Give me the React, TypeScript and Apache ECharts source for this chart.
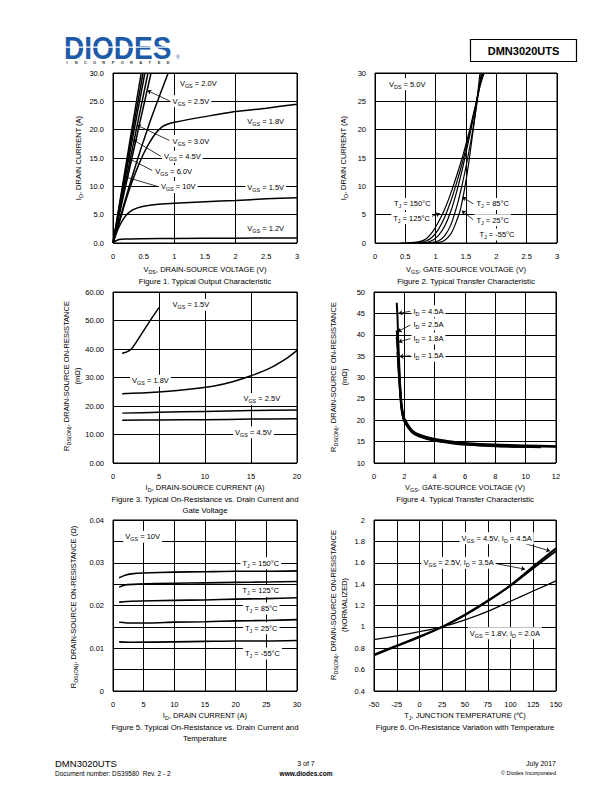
import React, { useEffect, useRef } from 'react';
import * as echarts from 'echarts';

const FONT = '"Liberation Sans", Arial, Helvetica, sans-serif';
const FS = 7.5;

// ---------------- Figure 1: output characteristic ----------------
const fig1XTicks = ['0', '0.5', '1', '1.5', '2', '2.5', '3'];
const fig1YTicks = ['0.0', '5.0', '10.0', '15.0', '20.0', '25.0', '30.0'];
const fig1Vgs10 = [[0, 0], [0.3, 19.6], [0.46, 30]];
const fig1Vgs6 = [[0, 0], [0.3, 18.5], [0.49, 30]];
const fig1Vgs45 = [[0, 0], [0.3, 17.4], [0.52, 30]];
const fig1Vgs3 = [[0, 0], [0.3, 15.8], [0.57, 30]];
const fig1Vgs25 = [[0, 0], [0.3, 14.6], [0.62, 30]];
const fig1Vgs2 = [[0, 0], [0.3, 11.3], [0.6, 21.3], [0.9, 30]];
const fig1Vgs18 = [[0, 0], [0.1, 3.5], [0.2, 7.2], [0.3, 10.5], [0.4, 13.3], [0.5, 15.8], [0.6, 17.8], [0.7, 19.4], [0.8, 20.5], [0.9, 21], [1, 21.3], [1.5, 22.3], [2, 23.2], [2.5, 23.8], [3, 24.5]];
const fig1Vgs15 = [[0, 0], [0.05, 1.6], [0.1, 2.9], [0.2, 4.7], [0.3, 5.7], [0.4, 6.2], [0.5, 6.5], [0.7, 6.8], [1, 7], [1.5, 7.3], [2, 7.5], [2.5, 7.8], [3, 8]];
const fig1Vgs12 = [[0, 0], [0.05, 0.4], [0.1, 0.6], [0.2, 0.7], [0.5, 0.75], [1, 0.8], [2, 0.85], [3, 0.9]];
const fig1Notes: [number, number, string][] = [
  [1.05, 28.1, 'V_{GS} = 2.0V'], [0.93, 25, 'V_{GS} = 2.5V'], [2.15, 21.4, 'V_{GS} = 1.8V'],
  [0.93, 18, 'V_{GS} = 3.0V'], [0.79, 15.2, 'V_{GS} = 4.5V'], [0.65, 12.7, 'V_{GS} = 6.0V'],
  [0.74, 9.9, 'V_{GS} = 10V'], [2.15, 9.8, 'V_{GS} = 1.5V'], [2.15, 2.5, 'V_{GS} = 1.2V'],
];
const fig1Arrows = [[0.92, 25.1, 0.56, 26.9], [0.92, 18.1, 0.39, 20.8], [0.78, 15.3, 0.33, 18.2], [0.64, 12.8, 0.26, 14.9], [0.72, 10, 0.19, 11.7]];

// ---------------- Figure 2: transfer characteristic ----------------
const fig2XTicks = ['0', '0.5', '1', '1.5', '2', '2.5', '3'];
const fig2YTicks = ['0', '5', '10', '15', '20', '25', '30'];
const fig2T150 = [[0.42, 0], [0.6, 0.05], [0.75, 0.3], [0.85, 0.8], [0.95, 2], [1.05, 3.8], [1.15, 6], [1.25, 8.8], [1.35, 12], [1.45, 15.5], [1.55, 19.5], [1.65, 24], [1.74, 28], [1.8, 30]];
const fig2T125 = [[0.5, 0], [0.7, 0.05], [0.85, 0.4], [0.95, 1.1], [1.05, 2.5], [1.15, 4.6], [1.25, 7.4], [1.35, 10.8], [1.45, 14.6], [1.55, 19], [1.65, 23.8], [1.74, 28.5], [1.78, 30]];
const fig2T85 = [[0.6, 0], [0.8, 0.05], [0.95, 0.5], [1.05, 1.4], [1.15, 3], [1.25, 5.6], [1.35, 9.2], [1.45, 13.5], [1.55, 18.4], [1.65, 23.6], [1.72, 27.8], [1.77, 30]];
const fig2T25 = [[0.75, 0], [0.9, 0.05], [1.05, 0.4], [1.15, 1.3], [1.25, 3.2], [1.35, 6.5], [1.42, 9.5], [1.5, 13.5], [1.58, 18], [1.65, 22.5], [1.72, 27.5], [1.75, 30]];
const fig2Tm55 = [[0.95, 0], [1.05, 0.1], [1.15, 0.5], [1.25, 1.6], [1.32, 3.2], [1.4, 5.6], [1.45, 8], [1.5, 11], [1.55, 14.5], [1.6, 18.5], [1.65, 22.5], [1.7, 27], [1.73, 30]];
const fig2Notes: [number, number, string][] = [
  [0.19, 28, 'V_{DS} = 5.0V'], [0.27, 6.9, 'T_{J} = 150°C'], [0.26, 4.4, 'T_{J} = 125°C'],
  [1.63, 6.9, 'T_{J} = 85°C'], [1.63, 4.0, 'T_{J} = 25°C'], [1.68, 1.5, 'T_{J} = -55°C'],
];
const fig2Arrows = [[0.88, 4.5, 1.07, 5.2], [1.62, 6.9, 1.44, 8.1], [1.62, 4.1, 1.43, 5.7]];

// ---------------- Figure 3: on-resistance vs drain current & gate voltage ----------------
const fig3XTicks = ['0', '5', '10', '15', '20'];
const fig3YTicks = ['0.00', '10.00', '20.00', '30.00', '40.00', '50.00', '60.00'];
const fig3Vgs15 = [[1, 38.5], [1.5, 39], [2, 40], [3, 44.8], [4, 49.8], [5, 54.5]];
const fig3Vgs18 = [[1, 24.3], [3, 24.6], [5, 24.9], [7, 25.4], [9, 26.1], [11, 27], [13, 28.5], [15, 30.6], [17, 33.2], [19, 37], [20, 39.5]];
const fig3Vgs25 = [[1, 17.5], [5, 17.8], [10, 18.1], [15, 18.4], [20, 18.6]];
const fig3Vgs45 = [[1, 15], [5, 15.1], [10, 15.2], [15, 15.4], [20, 15.5]];
const fig3Notes: [number, number, string][] = [
  [6.2, 55.5, 'V_{GS} = 1.5V'], [1.8, 28.9, 'V_{GS} = 1.8V'], [13.9, 22.5, 'V_{GS} = 2.5V'], [13, 10.8, 'V_{GS} = 4.5V'],
];

// ---------------- Figure 4: on-resistance vs gate voltage ----------------
const fig4XTicks = ['0', '2', '4', '6', '8', '10', '12'];
const fig4YTicks = ['10', '15', '20', '25', '30', '35', '40', '45', '50'];
const fig4Id45 = [[1.5, 47.5], [1.55, 44], [1.6, 38.5], [1.7, 30], [1.8, 24.5], [1.9, 21.8], [2, 20.4], [2.5, 17.7], [3, 16.6], [4, 15.6], [5, 15.1], [6, 14.7], [8, 14.3], [10, 14.1], [12, 13.9]];
const fig4Id25 = [[1.5, 41], [1.55, 38.5], [1.6, 35], [1.7, 28.5], [1.8, 23.8], [1.9, 21.4], [2, 20.1], [2.5, 17.5], [3, 16.4], [4, 15.4], [5, 14.9], [6, 14.5], [8, 14.1], [10, 13.9], [12, 13.8]];
const fig4Id18 = [[1.5, 39.5], [1.55, 37], [1.6, 34], [1.7, 28], [1.8, 23.4], [1.9, 21.1], [2, 19.9], [2.5, 17.3], [3, 16.3], [4, 15.3], [5, 14.8], [6, 14.4], [8, 14], [10, 13.8], [11, 13.8]];
const fig4Id15 = [[1.55, 36], [1.6, 33], [1.7, 27.5], [1.8, 23], [1.9, 20.9], [2, 19.7], [2.5, 17.2], [3, 16.2], [4, 15.2], [5, 14.7], [6, 14.3], [8, 13.9], [10, 13.8], [11, 13.7]];
const fig4Notes: [number, number, string][] = [
  [2.44, 45.5, 'I_{D} = 4.5A'], [2.44, 42.4, 'I_{D} = 2.5A'], [2.44, 39.1, 'I_{D} = 1.8A'], [2.44, 35.1, 'I_{D} = 1.5A'],
];
const fig4Arrows = [[2.4, 45.5, 1.61, 45], [2.4, 42.3, 1.57, 40.7], [2.4, 39.1, 1.61, 38.3], [2.4, 35.1, 1.68, 34.9]];

// ---------------- Figure 5: on-resistance vs drain current & temperature ----------------
const fig5XTicks = ['0', '5', '10', '15', '20', '25', '30'];
const fig5YTicks = ['0', '0.01', '0.02', '0.03', '0.04'];
const fig5T150 = [[1, 0.0265], [2, 0.0271], [3, 0.0274], [5, 0.0276], [10, 0.0278], [15, 0.0279], [20, 0.028], [25, 0.028], [30, 0.0281]];
const fig5T125 = [[1, 0.0243], [2, 0.0248], [4, 0.025], [10, 0.0252], [15, 0.0253], [20, 0.0254], [25, 0.0255], [30, 0.0256]];
const fig5T85 = [[1, 0.0208], [3, 0.021], [10, 0.0212], [15, 0.0213], [20, 0.0215], [25, 0.0216], [30, 0.0218]];
const fig5T25 = [[1, 0.0161], [3, 0.0159], [6, 0.0159], [10, 0.0161], [15, 0.0162], [20, 0.0164], [25, 0.0165], [30, 0.0167]];
const fig5Tm55 = [[1, 0.0115], [3, 0.0114], [10, 0.0115], [15, 0.0116], [20, 0.0117], [25, 0.0117], [30, 0.0118]];
const fig5Notes: [number, number, string][] = [
  [1.6, 0.0361, 'V_{GS} = 10V'], [20.7, 0.0299, 'T_{J} = 150°C'], [20.7, 0.0234, 'T_{J} = 125°C'],
  [21.1, 0.0193, 'T_{J} = 85°C'], [21.1, 0.0147, 'T_{J} = 25°C'], [21.1, 0.0088, 'T_{J} = -55°C'],
];

// ---------------- Figure 6: normalized on-resistance vs temperature ----------------
const fig6XTicks = ['-50', '-25', '0', '25', '50', '75', '100', '125', '150'];
const fig6YTicks = ['0.4', '0.6', '0.8', '1', '1.2', '1.4', '1.6', '1.8', '2'];
const fig6Vgs18 = [[-50, 0.88], [-25, 0.915], [0, 0.955], [25, 1.0], [50, 1.065], [75, 1.145], [100, 1.24], [125, 1.335], [150, 1.43]];
const fig6Vgs25 = [[-50, 0.735], [-25, 0.82], [0, 0.905], [25, 1.0], [50, 1.11], [75, 1.24], [100, 1.385], [125, 1.55], [150, 1.71]];
const fig6Vgs45 = [[-50, 0.74], [-25, 0.825], [0, 0.91], [25, 1.0], [50, 1.115], [75, 1.245], [100, 1.39], [125, 1.565], [150, 1.735]];
const fig6Notes: [number, number, string][] = [
  [43.5, 1.83, 'V_{GS} = 4.5V, I_{D} = 4.5A'], [1.6, 1.6, 'V_{GS} = 2.5V, I_{D} = 3.5A'], [52.5, 0.94, 'V_{GS} = 1.8V, I_{D} = 2.0A'],
];
const fig6Arrows = [[100, 1.82, 143.5, 1.71], [85, 1.59, 116, 1.54]];

// ---------------- helpers ----------------
function rich(s: string): string {
  let out = '';
  let last = 0;
  const re = /_\{([^}]*)\}/g;
  let m: RegExpExecArray | null;
  while ((m = re.exec(s)) !== null) {
    if (m.index > last) out += `{a|${s.slice(last, m.index)}}`;
    out += `{s|${m[1]}}`;
    last = m.index + m[0].length;
  }
  if (last < s.length) out += `{a|${s.slice(last)}}`;
  return out;
}

const richStyle = (size: number, weight = 'normal') => ({
  a: { fontSize: size, fontFamily: FONT, fontWeight: weight, color: '#000', fill: '#000', lineHeight: size + 2.5 },
  s: { fontSize: size * 0.72, fontFamily: FONT, fontWeight: weight, color: '#000', fill: '#000', lineHeight: size * 0.6, verticalAlign: 'bottom' },
});

const curve = (idx: number, data: number[][], width = 1.5) => ({
  type: 'line', xAxisIndex: idx, yAxisIndex: idx, data, symbol: 'none', showSymbol: false,
  smooth: 0.25, lineStyle: { color: '#000', width }, silent: true, z: 3,
});

const notes = (idx: number, list: [number, number, string][], arrows: number[][] = []) => ({
  type: 'scatter', xAxisIndex: idx, yAxisIndex: idx, symbolSize: 1, silent: true, z: 6,
  itemStyle: { color: 'rgba(255,255,255,0)' },
  data: list.map((n) => ({ value: [n[0], n[1]], name: n[2] })),
  label: {
    show: true, position: 'right', distance: 0, backgroundColor: '#fff', padding: [1, 2, 1, 2],
    color: '#000', opacity: 1,
    formatter: (p: any) => rich(p.name), rich: richStyle(FS),
  },
  labelLayout: { hideOverlap: false },
  markLine: {
    silent: true, symbol: ['none', 'arrow'], symbolSize: 4, animation: false,
    lineStyle: { color: '#000', width: 0.8, type: 'solid' }, label: { show: false },
    data: arrows.map((a) => [{ coord: [a[0], a[1]] }, { coord: [a[2], a[3]] }]),
  },
});

const axis = (grid: number, min: number, max: number, interval: number, ticks: string[], opts: any = {}) => ({
  type: 'value', gridIndex: grid, min, max, interval,
  axisLine: { show: false }, axisTick: { show: false },
  splitLine: { show: true, lineStyle: { color: '#000', width: 1 } },
  axisLabel: {
    show: true, color: '#000', fontSize: FS, fontFamily: FONT, margin: 9,
    formatter: (v: number) => ticks[Math.round((v - min) / interval)] ?? '',
  },
  ...opts,
});

const gridOnly = (grid: number, min: number, max: number, interval: number) => ({
  type: 'value', gridIndex: grid, min, max, interval,
  axisLine: { show: false }, axisTick: { show: false }, axisLabel: { show: false },
  splitLine: { show: true, lineStyle: { color: '#000', width: 1 } },
});

const txt = (x: number, y: number, text: string, o: any = {}) => {
  const size = o.size ?? FS;
  const align = o.align ?? 'center';
  return {
    type: 'text', x, y, rotation: o.rot ?? 0, silent: true, z: 10,
    scaleX: o.sx ?? 1, scaleY: o.sy ?? 1,
    style: {
      text: o.plain ? text : rich(text), rich: richStyle(size, o.bold ? 'bold' : 'normal'),
      fill: o.color ?? '#000', fontSize: size, fontFamily: o.family ?? FONT, fontWeight: o.bold ? 'bold' : 'normal',
      align, textAlign: align, verticalAlign: 'middle', textVerticalAlign: 'middle',
    },
  };
};

export default function App() {
  const ref = useRef<HTMLDivElement>(null);
  useEffect(() => {
    if (!ref.current) return;
    const chart = echarts.init(ref.current, undefined, { renderer: 'svg' });

    const gridBoxes = [
      { left: 113, top: 73, width: 184, height: 170 },
      { left: 375, top: 73, width: 182, height: 170 },
      { left: 113, top: 292, width: 184, height: 171 },
      { left: 374, top: 292, width: 182, height: 171 },
      { left: 113, top: 520, width: 184, height: 171 },
      { left: 374, top: 520, width: 182, height: 171 },
    ];
    const grid = gridBoxes.map((g) => ({
      ...g, show: true, borderColor: '#000', borderWidth: 1, backgroundColor: 'rgba(0,0,0,0)',
      containLabel: false, outerBoundsMode: 'none',
    }));

    const xAxis = [
      axis(0, 0, 3, 0.5, fig1XTicks, { splitLine: { show: false } }),
      axis(1, 0, 3, 0.5, fig2XTicks),
      axis(2, 0, 20, 5, fig3XTicks),
      axis(3, 0, 12, 2, fig4XTicks),
      axis(4, 0, 30, 5, fig5XTicks),
      axis(5, -50, 150, 25, fig6XTicks),
      gridOnly(0, 0, 3, 1),
    ];
    const yAxis = [
      axis(0, 0, 30, 5, fig1YTicks),
      axis(1, 0, 30, 5, fig2YTicks),
      axis(2, 0, 60, 10, fig3YTicks),
      axis(3, 10, 50, 5, fig4YTicks),
      axis(4, 0, 0.04, 0.01, fig5YTicks, { splitLine: { show: false } }),
      axis(5, 0.4, 2, 0.2, fig6YTicks),
      gridOnly(4, 0, 0.04, 0.005),
    ];

    const series: any[] = [
      ...[fig1Vgs10, fig1Vgs6, fig1Vgs45, fig1Vgs3, fig1Vgs25, fig1Vgs2, fig1Vgs18, fig1Vgs15, fig1Vgs12].map((d) => curve(0, d, 1.5)),
      notes(0, fig1Notes, fig1Arrows),
      ...[fig2T150, fig2T125, fig2T85, fig2T25, fig2Tm55].map((d) => curve(1, d, 1.2)),
      notes(1, fig2Notes, fig2Arrows),
      ...[fig3Vgs15, fig3Vgs18, fig3Vgs25, fig3Vgs45].map((d) => curve(2, d, 1.5)),
      notes(2, fig3Notes),
      ...[fig4Id45, fig4Id25, fig4Id18, fig4Id15].map((d) => curve(3, d, 2)),
      notes(3, fig4Notes, fig4Arrows),
      ...[fig5T150, fig5T125, fig5T85, fig5T25, fig5Tm55].map((d) => curve(4, d, 1.6)),
      notes(4, fig5Notes),
      curve(5, fig6Vgs18, 1.2), curve(5, fig6Vgs25, 2), curve(5, fig6Vgs45, 2),
      notes(5, fig6Notes, fig6Arrows),
    ];

    const R = Math.PI / 2;
    const CAP = 7.8;
    const letters = 'INCORPORATED'.split('');
    const graphic: any[] = [
      // header logo
      txt(64, 47.5, 'DIODES', { plain: true, size: 28, bold: true, align: 'left', color: '#1d5ba8', sy: 1.12 }),
      { type: 'rect', silent: true, z: 11, shape: { x: 63, y: 46.6, width: 112, height: 1.2 }, style: { fill: '#fff' } },
      txt(176, 57, '®', { plain: true, size: 5, align: 'left', color: '#1d5ba8' }),
      ...letters.map((c, i) => txt(67 + i * 9.2, 62.5, c, { plain: true, size: 4, bold: true, color: '#333' })),
      { type: 'rect', silent: true, shape: { x: 470.5, y: 39.5, width: 106, height: 22 }, style: { fill: 'none', stroke: '#000', lineWidth: 1.2 } },
      txt(523.5, 50.5, 'DMN3020UTS', { plain: true, size: 11, bold: true }),
      // figure 1
      txt(78, 158, 'I_{D}, DRAIN CURRENT (A)', { rot: R }),
      txt(205, 269, 'V_{DS}, DRAIN-SOURCE VOLTAGE (V)'),
      txt(205, 281, 'Figure 1. Typical Output Characteristic', { size: CAP }),
      // figure 2
      txt(343, 158, 'I_{D}, DRAIN CURRENT (A)', { rot: R }),
      txt(466, 269, 'V_{GS}, GATE-SOURCE VOLTAGE (V)'),
      txt(466, 281, 'Figure 2. Typical Transfer Characteristic', { size: CAP }),
      // figure 3
      txt(66, 376, 'R_{DS(ON)}, DRAIN-SOURCE ON-RESISTANCE', { rot: R }),
      txt(77, 376, '(mΩ)', { rot: R }),
      txt(205, 487, 'I_{D}, DRAIN-SOURCE CURRENT (A)'),
      txt(205, 499, 'Figure 3. Typical On-Resistance vs. Drain Current and', { size: CAP }),
      txt(205, 510, 'Gate Voltage', { size: CAP }),
      // figure 4
      txt(333, 377, 'R_{DS(ON)}, DRAIN-SOURCE ON-RESISTANCE', { rot: R }),
      txt(344, 377, '(mΩ)', { rot: R }),
      txt(465, 487, 'V_{GS}, GATE-SOURCE VOLTAGE (V)'),
      txt(465, 499, 'Figure 4. Typical Transfer Characteristic', { size: CAP }),
      // figure 5
      txt(73, 607, 'R_{DS(ON)}, DRAIN-SOURCE ON-RESISTANCE (Ω)', { rot: R }),
      txt(205, 715, 'I_{D}, DRAIN CURRENT (A)'),
      txt(205, 727, 'Figure 5. Typical On-Resistance vs. Drain Current and', { size: CAP }),
      txt(205, 738, 'Temperature', { size: CAP }),
      // figure 6
      txt(333, 605, 'R_{DS(ON)}, DRAIN-SOURCE ON-RESISTANCE', { rot: R }),
      txt(344, 605, '(NORMALIZED)', { rot: R }),
      txt(465, 715, 'T_{J}, JUNCTION TEMPERATURE (℃)'),
      txt(465, 727, 'Figure 6. On-Resistance Variation with Temperature', { size: CAP }),
      // footer
      txt(55, 763, 'DMN3020UTS', { plain: true, size: 9.5, align: 'left' }),
      txt(55, 773.5, 'Document number: DS39580  Rev. 2 - 2', { plain: true, size: 6.5, align: 'left' }),
      txt(306, 763, '3 of 7', { plain: true, size: 7 }),
      txt(306, 773.5, 'www.diodes.com', { plain: true, size: 6.5, bold: true }),
      txt(556, 763, 'July 2017', { plain: true, size: 7, align: 'right' }),
      txt(556, 773, '© Diodes Incorporated', { plain: true, size: 5.5, align: 'right' }),
    ];

    chart.setOption({
      animation: false,
      backgroundColor: '#fff',
      grid, xAxis, yAxis, series, graphic,
    });
    return () => chart.dispose();
  }, []);
  return <div ref={ref} style={{ position: 'absolute', left: 0, top: 0, width: 612, height: 792, background: '#fff' }} />;
}
